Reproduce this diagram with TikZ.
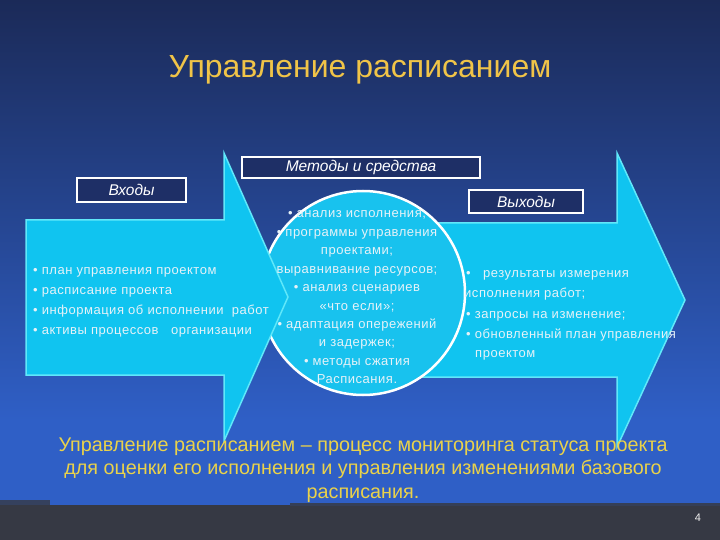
\documentclass[tikz,border=0pt]{standalone}
\usepackage{fontspec}
\setmainfont{Liberation Sans}
\newfontfamily\spacedsans[LetterSpace=4]{Liberation Sans}
\definecolor{bgtop}{HTML}{1B2A58}
\definecolor{bgbot}{HTML}{2F5FC6}
\definecolor{arrowfill}{HTML}{10C4F0}
\definecolor{arrowline}{HTML}{60E8FA}
\definecolor{circfill}{HTML}{18C2EE}
\definecolor{boxfill}{HTML}{1E2F66}
\definecolor{txtlight}{HTML}{E6F2F8}
\definecolor{titlegold}{HTML}{F0C448}
\definecolor{noteyellow}{HTML}{EAD24A}
\definecolor{stripdark}{HTML}{363944}
\tikzset{
  arrowshape/.style={fill=arrowfill, draw=arrowline, line width=1.5pt, line join=miter},
  labelbox/.style={draw=white, line width=1.1pt, fill=boxfill, text=white, font=\fontsize{15.5}{18}\selectfont\itshape, inner sep=0pt},
  intext/.style={text=txtlight, font=\spacedsans\fontsize{13}{15}\selectfont, inner sep=0pt},
  note/.style={text=noteyellow, font=\fontsize{19.8}{23}\selectfont, inner sep=0pt}
}
\begin{document}
\begin{tikzpicture}[x=1pt,y=-1pt]
\useasboundingbox (0,0) rectangle (720,540);
% background
\shade[top color=bgtop, bottom color=bgbot] (0,0) rectangle (720,420);
\fill[bgbot] (0,419.5) rectangle (720,505);
\fill[stripdark] (0,505) rectangle (720,540);
\fill[stripdark!80!bgbot] (0,500) rectangle (50,505);
\fill[stripdark!85!bgbot] (290,503) rectangle (720,506);
% title
\node[text=titlegold, font=\fontsize{32}{38}\selectfont, inner sep=0pt] (title) at (360,70) {Управление расписанием};
% right arrow
\path[arrowshape] (420,223) -- (617,223) -- (617,153) -- (685,300) -- (617,447) -- (617,377) -- (420,377) -- cycle;
% circle
\node[circle, fill=circfill, draw=white, line width=2.5pt, minimum size=204pt, inner sep=0pt] (circ) at (363,293) {};
% left arrow
\path[arrowshape] (26,220) -- (224,220) -- (224,153) -- (288,297) -- (224,441) -- (224,375) -- (26,375) -- cycle;
% label boxes
\node[labelbox, minimum width=109pt, minimum height=24pt] (inbox) at (131.5,190) {Входы};
\node[labelbox, minimum width=238pt, minimum height=21pt] (methbox) at (361,167.5) {Методы и средства};
\node[labelbox, minimum width=114pt, minimum height=23pt] (outbox) at (526,201.5) {Выходы};
% left arrow text
\node[intext, anchor=base west] (in1) at (33,274.5) {• план управления проектом};
\node[intext, anchor=base west] (in2) at (33,294.5) {• расписание проекта};
\node[intext, anchor=base west] (in3) at (33,314.5) {• информация об исполнении\ \ работ};
\node[intext, anchor=base west] (in4) at (33,334.5) {• активы процессов\ \ \ организации};
% circle text
\foreach \t [count=\i from 0] in {{• анализ исполнения;},{• программы управления},{проектами;},{выравнивание ресурсов;},{• анализ сценариев},{«что если»;},{• адаптация опережений},{и задержек;},{• методы сжатия},{Расписания.}}{
  \node[intext, anchor=base] (c\i) at (357,218+18.4*\i) {\t};
}
% right arrow text
\node[intext, anchor=base west] (out1) at (466,277) {•\ \ \ результаты измерения};
\node[intext, anchor=base west] (out2) at (464,297.5) {исполнения работ;};
\node[intext, anchor=base west] (out3) at (466,318) {• запросы на изменение;};
\node[intext, anchor=base west] (out4) at (466,338) {• обновленный план управления};
\node[intext, anchor=base west] (out5) at (475,357.5) {проектом};
% note
\node[note, anchor=base] (n1) at (363,451) {Управление расписанием – процесс мониторинга статуса проекта};
\node[note, anchor=base] (n2) at (363,474.5) {для оценки его исполнения и управления изменениями базового};
\node[note, anchor=base] (n3) at (363,498) {расписания.};
% page number
\node[text=white!88!gray, font=\fontsize{11}{13}\selectfont, inner sep=0pt] (pg) at (698,518) {4};
\end{tikzpicture}
\end{document}
